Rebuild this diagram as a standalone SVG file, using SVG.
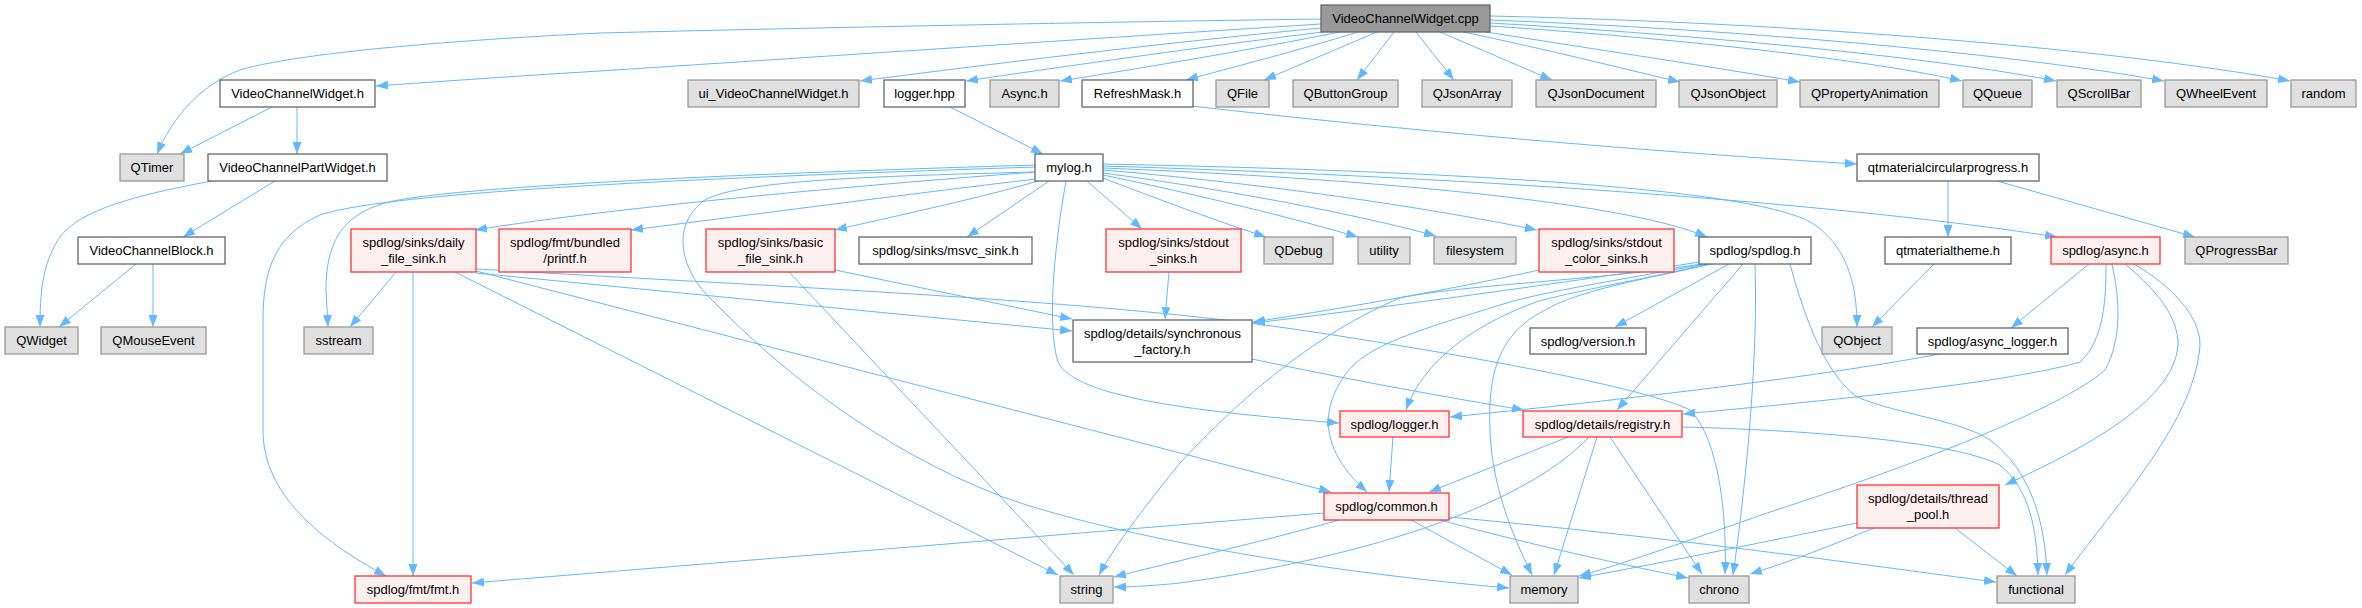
<svg xmlns="http://www.w3.org/2000/svg" width="2362" height="608" viewBox="0 0 2362 608">
<defs>
<marker id="ah" markerUnits="userSpaceOnUse" markerWidth="12" markerHeight="9" refX="12" refY="4.5" orient="auto">
<path d="M0,0 L12,4.5 L0,9 Z" fill="#63b8ff"/>
</marker>
<style>
rect{stroke-width:1.3}
.g{fill:#e0e0e0;stroke:#999999}
.w{fill:#ffffff;stroke:#666666}
.r{fill:#fff0f0;stroke:#ff3333}
.root{fill:#999999;stroke:#666666}
text{font-family:"Liberation Sans",Arial,sans-serif;font-size:13px;fill:#000;text-anchor:middle}
#edges path{fill:none;stroke:#63b8ff;stroke-width:1;marker-end:url(#ah)}
</style>
</defs>
<rect x="0" y="0" width="2362" height="608" fill="#ffffff" style="stroke:none"/>
<g id="edges">
<path d="M1321,19 C1100,22 800,28 600,33 C420,42 290,55 240,70 C200,85 172,118 157,154"/>
<path d="M1321,24 C1100,38 800,58 600,71 C500,77 420,83 376,86"/>
<path d="M1321,28 C1150,44 960,68 860,81"/>
<path d="M1323,32 C1200,47 1060,67 966,81"/>
<path d="M1340,32 C1250,50 1130,70 1060,81"/>
<path d="M1358,32 C1300,50 1230,68 1186,80"/>
<path d="M1377,32 L1264,80"/>
<path d="M1394,32 L1357,80"/>
<path d="M1416,32 L1454,80"/>
<path d="M1440,32 L1552,80"/>
<path d="M1463,32 C1550,50 1620,68 1680,82"/>
<path d="M1486,32 C1600,50 1720,68 1800,82"/>
<path d="M1490,26 C1700,40 1880,62 1962,81"/>
<path d="M1490,23 C1750,38 1960,62 2056,81"/>
<path d="M1490,20 C1800,32 2050,60 2164,81"/>
<path d="M1490,16 C1850,24 2150,55 2290,81"/>
<path d="M272,107 L180,154"/>
<path d="M297,107 L297,154"/>
<path d="M212,181 C130,196 75,212 58,240 C42,265 40,295 40,327"/>
<path d="M275,181 L183,237"/>
<path d="M136,264 L59,327"/>
<path d="M153,264 L153,327"/>
<path d="M950,107 L1043,154"/>
<path d="M1192,106 C1400,130 1650,152 1857,164"/>
<path d="M1948,181 L1948,237"/>
<path d="M1997,181 L2195,237"/>
<path d="M1934,264 L1872,327"/>
<path d="M1035,167 C800,175 400,188 320,215 C275,235 263,270 263,320 L263,430 C263,495 320,540 386,576"/>
<path d="M1035,165 C800,172 450,185 385,203 C340,216 326,245 326,290 L328,327"/>
<path d="M1035,172 C800,190 600,210 475,230"/>
<path d="M1036,179 C900,195 750,215 631,230"/>
<path d="M1038,181 C980,198 900,215 835,230"/>
<path d="M1049,181 L967,237"/>
<path d="M1035,172 C880,176 740,180 705,200 C670,225 680,270 712,300 C780,370 880,450 1003,497 C1100,532 1300,570 1509,588"/>
<path d="M1066,181 C1052,260 1048,330 1058,362 C1075,398 1200,412 1339,423"/>
<path d="M1087,181 L1142,229"/>
<path d="M1103,178 C1160,200 1220,222 1266,237"/>
<path d="M1103,175 C1200,195 1300,220 1358,237"/>
<path d="M1103,173 C1230,190 1360,215 1436,236"/>
<path d="M1103,170 C1280,185 1440,210 1537,230"/>
<path d="M1103,168 C1350,178 1620,200 1707,237"/>
<path d="M1103,166 C1500,178 1850,205 2057,237"/>
<path d="M1103,164 C1400,170 1760,185 1815,225 C1850,250 1857,290 1857,327"/>
<path d="M1700,262 C1550,285 1350,312 1253,323"/>
<path d="M1702,264 C1600,280 1460,285 1400,298 C1300,340 1220,420 1180,463 C1150,500 1115,545 1099,575"/>
<path d="M1705,264 C1620,280 1540,292 1500,305 C1420,330 1365,345 1345,375 C1320,410 1320,450 1367,492"/>
<path d="M1708,264 C1640,280 1570,292 1536,302 C1460,330 1420,370 1406,410"/>
<path d="M1712,264 C1640,280 1580,290 1545,310 C1495,335 1488,380 1490,430 C1492,490 1515,540 1532,575"/>
<path d="M1729,264 L1615,327"/>
<path d="M1743,264 L1617,410"/>
<path d="M1755,264 C1758,350 1748,470 1733,575"/>
<path d="M1790,264 C1800,300 1820,370 1857,397 C1900,415 1960,420 1990,440 C2030,470 2045,520 2047,575"/>
<path d="M396,272 L350,327"/>
<path d="M413,272 L413,576"/>
<path d="M455,272 L1058,575"/>
<path d="M476,271 L1331,492"/>
<path d="M476,273 L1072,331"/>
<path d="M476,269 C800,288 1100,300 1300,330 C1500,360 1650,390 1690,410 C1720,440 1727,520 1725,574"/>
<path d="M789,272 L1074,575"/>
<path d="M835,270 L1072,319"/>
<path d="M1169,272 L1165,319"/>
<path d="M1539,270 C1450,290 1320,312 1253,322"/>
<path d="M1252,359 C1350,380 1450,398 1524,410"/>
<path d="M1393,437 L1389,492"/>
<path d="M1940,354 C1800,380 1600,402 1450,417"/>
<path d="M1568,437 L1429,492"/>
<path d="M1589,437 C1520,510 1350,560 1180,583 C1150,586 1130,587 1114,587"/>
<path d="M1597,437 L1554,575"/>
<path d="M1610,437 L1702,574"/>
<path d="M1682,427 C1800,430 1950,440 2000,465 C2030,490 2037,530 2038,575"/>
<path d="M1324,513 L472,583"/>
<path d="M1339,520 C1250,545 1160,565 1114,577"/>
<path d="M1411,520 L1512,575"/>
<path d="M1440,520 C1550,550 1650,570 1688,578"/>
<path d="M1449,517 C1700,540 1900,570 1996,582"/>
<path d="M1857,523 C1750,545 1650,565 1579,578"/>
<path d="M1874,528 C1820,550 1780,565 1750,574"/>
<path d="M1955,528 L2017,576"/>
<path d="M2089,264 L2011,328"/>
<path d="M2106,264 C2106,300 2104,340 2080,362 C2000,385 1800,403 1683,414"/>
<path d="M2112,264 C2120,300 2122,340 2105,370 C2060,410 1900,470 1770,512 C1690,540 1620,565 1579,576"/>
<path d="M2125,264 C2150,285 2175,310 2178,340 C2180,400 2080,450 2005,485"/>
<path d="M2134,264 C2170,285 2200,315 2200,345 C2195,420 2120,500 2065,575"/>
</g>
<g id="n_cpp"><rect class="root" x="1321" y="5" width="169" height="27"/><text x="1405.5" y="23">VideoChannelWidget.cpp</text></g>
<g id="n_vcw"><rect class="w" x="220" y="80" width="155" height="27"/><text x="297.5" y="98">VideoChannelWidget.h</text></g>
<g id="n_ui"><rect class="g" x="688" y="80" width="171" height="27"/><text x="773.5" y="98">ui_VideoChannelWidget.h</text></g>
<g id="n_loggerhpp"><rect class="w" x="884" y="80" width="81" height="27"/><text x="924.5" y="98">logger.hpp</text></g>
<g id="n_async_cap"><rect class="g" x="990" y="80" width="69" height="27"/><text x="1024.5" y="98">Async.h</text></g>
<g id="n_refresh"><rect class="w" x="1082" y="80" width="111" height="27"/><text x="1137.5" y="98">RefreshMask.h</text></g>
<g id="n_qfile"><rect class="g" x="1216" y="80" width="53" height="27"/><text x="1242.5" y="98">QFile</text></g>
<g id="n_qbg"><rect class="g" x="1293" y="80" width="105" height="27"/><text x="1345.5" y="98">QButtonGroup</text></g>
<g id="n_qja"><rect class="g" x="1422" y="80" width="90" height="27"/><text x="1467" y="98">QJsonArray</text></g>
<g id="n_qjd"><rect class="g" x="1536" y="80" width="120" height="27"/><text x="1596" y="98">QJsonDocument</text></g>
<g id="n_qjo"><rect class="g" x="1679" y="80" width="98" height="27"/><text x="1728" y="98">QJsonObject</text></g>
<g id="n_qpa"><rect class="g" x="1800" y="80" width="139" height="27"/><text x="1869.5" y="98">QPropertyAnimation</text></g>
<g id="n_qqueue"><rect class="g" x="1963" y="80" width="69" height="27"/><text x="1997.5" y="98">QQueue</text></g>
<g id="n_qsb"><rect class="g" x="2057" y="80" width="84" height="27"/><text x="2099" y="98">QScrollBar</text></g>
<g id="n_qwe"><rect class="g" x="2165" y="80" width="102" height="27"/><text x="2216" y="98">QWheelEvent</text></g>
<g id="n_random"><rect class="g" x="2291" y="80" width="65" height="27"/><text x="2323.5" y="98">random</text></g>
<g id="n_qtimer"><rect class="g" x="120" y="154" width="64" height="27"/><text x="152" y="172">QTimer</text></g>
<g id="n_vcpw"><rect class="w" x="208" y="154" width="179" height="27"/><text x="297.5" y="172">VideoChannelPartWidget.h</text></g>
<g id="n_mylog"><rect class="w" x="1035" y="154" width="68" height="27"/><text x="1069" y="172">mylog.h</text></g>
<g id="n_qtmcp"><rect class="w" x="1857" y="154" width="182" height="27"/><text x="1948" y="172">qtmaterialcircularprogress.h</text></g>
<g id="n_vcb"><rect class="w" x="78" y="237" width="147" height="27"/><text x="151.5" y="255">VideoChannelBlock.h</text></g>
<g id="n_daily"><rect class="r" x="351" y="229" width="125" height="43"/><text x="413.5" y="247">spdlog/sinks/daily</text><text x="413.5" y="263">_file_sink.h</text></g>
<g id="n_printf"><rect class="r" x="499" y="229" width="132" height="43"/><text x="565" y="247">spdlog/fmt/bundled</text><text x="565" y="263">/printf.h</text></g>
<g id="n_basic"><rect class="r" x="706" y="229" width="129" height="43"/><text x="770.5" y="247">spdlog/sinks/basic</text><text x="770.5" y="263">_file_sink.h</text></g>
<g id="n_msvc"><rect class="w" x="859" y="237" width="173" height="27"/><text x="945.5" y="255">spdlog/sinks/msvc_sink.h</text></g>
<g id="n_stdout"><rect class="r" x="1106" y="229" width="135" height="43"/><text x="1173.5" y="247">spdlog/sinks/stdout</text><text x="1173.5" y="263">_sinks.h</text></g>
<g id="n_qdebug"><rect class="g" x="1264" y="237" width="69" height="27"/><text x="1298.5" y="255">QDebug</text></g>
<g id="n_utility"><rect class="g" x="1358" y="237" width="52" height="27"/><text x="1384" y="255">utility</text></g>
<g id="n_filesystem"><rect class="g" x="1434" y="237" width="82" height="27"/><text x="1475" y="255">filesystem</text></g>
<g id="n_stdoutcolor"><rect class="r" x="1539" y="229" width="135" height="43"/><text x="1606.5" y="247">spdlog/sinks/stdout</text><text x="1606.5" y="263">_color_sinks.h</text></g>
<g id="n_spdlog"><rect class="w" x="1699" y="237" width="112" height="27"/><text x="1755" y="255">spdlog/spdlog.h</text></g>
<g id="n_theme"><rect class="w" x="1885" y="237" width="126" height="27"/><text x="1948" y="255">qtmaterialtheme.h</text></g>
<g id="n_asynch"><rect class="r" x="2051" y="237" width="109" height="27"/><text x="2105.5" y="255">spdlog/async.h</text></g>
<g id="n_qpb"><rect class="g" x="2185" y="237" width="103" height="27"/><text x="2236.5" y="255">QProgressBar</text></g>
<g id="n_qwidget"><rect class="g" x="5" y="327" width="73" height="27"/><text x="41.5" y="345">QWidget</text></g>
<g id="n_qme"><rect class="g" x="101" y="327" width="105" height="27"/><text x="153.5" y="345">QMouseEvent</text></g>
<g id="n_sstream"><rect class="g" x="304" y="327" width="69" height="27"/><text x="338.5" y="345">sstream</text></g>
<g id="n_sync"><rect class="w" x="1073" y="320" width="179" height="42"/><text x="1162.5" y="338">spdlog/details/synchronous</text><text x="1162.5" y="354">_factory.h</text></g>
<g id="n_version"><rect class="w" x="1530" y="328" width="116" height="26"/><text x="1588" y="346">spdlog/version.h</text></g>
<g id="n_qobject"><rect class="g" x="1822" y="327" width="70" height="27"/><text x="1857" y="345">QObject</text></g>
<g id="n_asynclogger"><rect class="w" x="1917" y="328" width="151" height="26"/><text x="1992.5" y="346">spdlog/async_logger.h</text></g>
<g id="n_loggerh"><rect class="r" x="1340" y="411" width="109" height="26"/><text x="1394.5" y="429">spdlog/logger.h</text></g>
<g id="n_registry"><rect class="r" x="1523" y="411" width="159" height="26"/><text x="1602.5" y="429">spdlog/details/registry.h</text></g>
<g id="n_common"><rect class="r" x="1324" y="493" width="125" height="27"/><text x="1386.5" y="511">spdlog/common.h</text></g>
<g id="n_threadpool"><rect class="r" x="1857" y="485" width="142" height="43"/><text x="1928" y="503">spdlog/details/thread</text><text x="1928" y="519">_pool.h</text></g>
<g id="n_fmt"><rect class="r" x="355" y="576" width="116" height="27"/><text x="413" y="594">spdlog/fmt/fmt.h</text></g>
<g id="n_string"><rect class="g" x="1060" y="576" width="53" height="27"/><text x="1086.5" y="594">string</text></g>
<g id="n_memory"><rect class="g" x="1510" y="576" width="68" height="27"/><text x="1544" y="594">memory</text></g>
<g id="n_chrono"><rect class="g" x="1689" y="576" width="60" height="27"/><text x="1719" y="594">chrono</text></g>
<g id="n_functional"><rect class="g" x="1997" y="576" width="78" height="27"/><text x="2036" y="594">functional</text></g>
</svg>
